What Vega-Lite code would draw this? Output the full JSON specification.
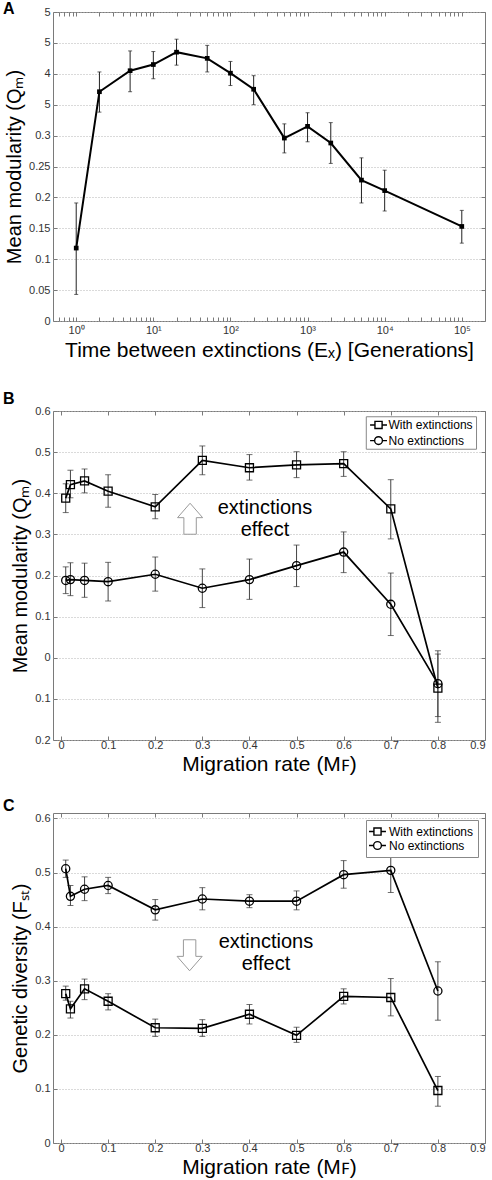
{
  "$schema": "https://vega.github.io/schema/vega-lite/v6.json",
  "padding": {"left": 2, "top": 0, "right": 0, "bottom": 0},
  "autosize": {"type": "pad"},
  "background": "white",
  "datasets": {
    "A": [
      {"t": 1, "q": 0.118, "lo": 0.043, "hi": 0.191},
      {"t": 2, "q": 0.371, "lo": 0.338, "hi": 0.403},
      {"t": 5, "q": 0.405, "lo": 0.371, "hi": 0.437},
      {"t": 10, "q": 0.415, "lo": 0.392, "hi": 0.436},
      {"t": 20, "q": 0.435, "lo": 0.414, "hi": 0.456},
      {"t": 50, "q": 0.425, "lo": 0.403, "hi": 0.446},
      {"t": 100, "q": 0.401, "lo": 0.381, "hi": 0.42},
      {"t": 200, "q": 0.375, "lo": 0.35, "hi": 0.397},
      {"t": 500, "q": 0.296, "lo": 0.272, "hi": 0.319},
      {"t": 1000, "q": 0.315, "lo": 0.29, "hi": 0.337},
      {"t": 2000, "q": 0.288, "lo": 0.255, "hi": 0.321},
      {"t": 5000, "q": 0.228, "lo": 0.191, "hi": 0.264},
      {"t": 10000, "q": 0.211, "lo": 0.178, "hi": 0.244},
      {"t": 100000, "q": 0.153, "lo": 0.126, "hi": 0.179}
    ],
    "B": [
      {"m": 0.01, "s": "With extinctions", "q": 0.388, "lo": 0.353, "hi": 0.423},
      {"m": 0.02, "s": "With extinctions", "q": 0.421, "lo": 0.389, "hi": 0.456},
      {"m": 0.05, "s": "With extinctions", "q": 0.43, "lo": 0.401, "hi": 0.459},
      {"m": 0.1, "s": "With extinctions", "q": 0.405, "lo": 0.366, "hi": 0.445},
      {"m": 0.2, "s": "With extinctions", "q": 0.367, "lo": 0.338, "hi": 0.397},
      {"m": 0.3, "s": "With extinctions", "q": 0.48, "lo": 0.445, "hi": 0.515},
      {"m": 0.4, "s": "With extinctions", "q": 0.462, "lo": 0.432, "hi": 0.494},
      {"m": 0.5, "s": "With extinctions", "q": 0.469, "lo": 0.438, "hi": 0.501},
      {"m": 0.6, "s": "With extinctions", "q": 0.472, "lo": 0.441, "hi": 0.501},
      {"m": 0.7, "s": "With extinctions", "q": 0.362, "lo": 0.289, "hi": 0.433},
      {"m": 0.8, "s": "With extinctions", "q": -0.074, "lo": -0.157, "hi": 0.009},
      {"m": 0.01, "s": "No extinctions", "q": 0.188, "lo": 0.156, "hi": 0.221},
      {"m": 0.02, "s": "No extinctions", "q": 0.19, "lo": 0.151, "hi": 0.231},
      {"m": 0.05, "s": "No extinctions", "q": 0.188, "lo": 0.147, "hi": 0.23},
      {"m": 0.1, "s": "No extinctions", "q": 0.185, "lo": 0.138, "hi": 0.232},
      {"m": 0.2, "s": "No extinctions", "q": 0.203, "lo": 0.162, "hi": 0.245},
      {"m": 0.3, "s": "No extinctions", "q": 0.169, "lo": 0.122, "hi": 0.216},
      {"m": 0.4, "s": "No extinctions", "q": 0.19, "lo": 0.142, "hi": 0.24},
      {"m": 0.5, "s": "No extinctions", "q": 0.224, "lo": 0.173, "hi": 0.274},
      {"m": 0.6, "s": "No extinctions", "q": 0.257, "lo": 0.207, "hi": 0.306},
      {"m": 0.7, "s": "No extinctions", "q": 0.13, "lo": 0.054, "hi": 0.206},
      {"m": 0.8, "s": "No extinctions", "q": -0.063, "lo": -0.143, "hi": 0.017}
    ],
    "C": [
      {"m": 0.01, "s": "With extinctions", "q": 0.276, "lo": 0.264, "hi": 0.29},
      {"m": 0.02, "s": "With extinctions", "q": 0.248, "lo": 0.231, "hi": 0.262},
      {"m": 0.05, "s": "With extinctions", "q": 0.285, "lo": 0.265, "hi": 0.303},
      {"m": 0.1, "s": "With extinctions", "q": 0.262, "lo": 0.246, "hi": 0.276},
      {"m": 0.2, "s": "With extinctions", "q": 0.213, "lo": 0.197, "hi": 0.229},
      {"m": 0.3, "s": "With extinctions", "q": 0.212, "lo": 0.197, "hi": 0.228},
      {"m": 0.4, "s": "With extinctions", "q": 0.238, "lo": 0.22, "hi": 0.256},
      {"m": 0.5, "s": "With extinctions", "q": 0.199, "lo": 0.186, "hi": 0.214},
      {"m": 0.6, "s": "With extinctions", "q": 0.271, "lo": 0.257, "hi": 0.285},
      {"m": 0.7, "s": "With extinctions", "q": 0.269, "lo": 0.235, "hi": 0.304},
      {"m": 0.8, "s": "With extinctions", "q": 0.097, "lo": 0.068, "hi": 0.123},
      {"m": 0.01, "s": "No extinctions", "q": 0.507, "lo": 0.491, "hi": 0.523},
      {"m": 0.02, "s": "No extinctions", "q": 0.456, "lo": 0.439, "hi": 0.476},
      {"m": 0.05, "s": "No extinctions", "q": 0.469, "lo": 0.448, "hi": 0.492},
      {"m": 0.1, "s": "No extinctions", "q": 0.476, "lo": 0.461, "hi": 0.491},
      {"m": 0.2, "s": "No extinctions", "q": 0.431, "lo": 0.412, "hi": 0.45},
      {"m": 0.3, "s": "No extinctions", "q": 0.451, "lo": 0.431, "hi": 0.472},
      {"m": 0.4, "s": "No extinctions", "q": 0.447, "lo": 0.435, "hi": 0.459},
      {"m": 0.5, "s": "No extinctions", "q": 0.447, "lo": 0.431, "hi": 0.466},
      {"m": 0.6, "s": "No extinctions", "q": 0.496, "lo": 0.471, "hi": 0.522},
      {"m": 0.7, "s": "No extinctions", "q": 0.504, "lo": 0.463, "hi": 0.545},
      {"m": 0.8, "s": "No extinctions", "q": 0.281, "lo": 0.227, "hi": 0.335}
    ],
    "noteB": [{"m": 0.433, "q": 0.349}],
    "arrowB": [{"m": 0.274, "q": 0.338}],
    "legBoxB": [{"m": 0.648, "m2": 0.882, "q": 0.586, "q2": 0.507}],
    "legB": [{"s": "With extinctions", "m": 0.674, "q": 0.566}, {"s": "No extinctions", "m": 0.674, "q": 0.528}],
    "noteC": [{"m": 0.435, "q": 0.36}],
    "arrowC": [{"m": 0.273, "q": 0.347}]
  },
  "config": {
    "font": "Liberation Sans",
    "view": {"stroke": "#7a7a7a", "strokeWidth": 1},
    "axis": {
      "labelFont": "Liberation Sans", "labelFontSize": 11, "labelColor": "#333",
      "titleFont": "Liberation Sans", "titleFontWeight": "normal", "titleColor": "#000",
      "titleFontSize": 20,
      "tickColor": "#7a7a7a", "tickSize": -4, "domain": false,
      "gridColor": "#b5b5b5", "gridDash": [1, 2], "gridWidth": 1,
      "labelOverlap": false, "labelPadding": 7
    },
    "legend": {
      "title": null,
      "symbolSize": 169, "symbolStrokeColor": "#000", "symbolStrokeWidth": 1.4, "symbolFillColor": "transparent", "symbolOpacity": 1,
      "labelFont": "Liberation Sans", "labelFontSize": 12, "labelColor": "#000", "labelOffset": 4,
      "strokeColor": "#888", "fillColor": "white", "padding": 4, "rowPadding": 0
    },
    "title": {"font": "Liberation Sans", "fontSize": 16, "fontWeight": "bold", "color": "#000", "anchor": "start", "frame": "group", "dx": -50, "baseline": "alphabetic"}
  },
  "spacing": 29,
  "vconcat": [
    {
      "width": 432, "height": 309,
      "title": {"text": "A", "offset": -11},
      "data": {"name": "A"},
      "layer": [
        {
          "mark": {"type": "rule", "color": "#222", "strokeWidth": 1},
          "encoding": {
            "x": {"field": "t", "type": "quantitative", "scale": {"type": "log", "domain": [0.5, 200000], "nice": false},
              "axis": {"orient": "bottom", "grid": false, "title": "Time between extinctions (Eₓ) [Generations]", "titleFontSize": 21,
                "values": [0.6,0.7,0.8,0.9,1,2,3,4,5,6,7,8,9,10,20,30,40,50,60,70,80,90,100,200,300,400,500,600,700,800,900,1000,2000,3000,4000,5000,6000,7000,8000,9000,10000,20000,30000,40000,50000,60000,70000,80000,90000,100000],
                "labelExpr": "datum.value == 1 ? '10⁰' : datum.value == 10 ? '10¹' : datum.value == 100 ? '10²' : datum.value == 1000 ? '10³' : datum.value == 10000 ? '10⁴' : datum.value == 100000 ? '10⁵' : ''"}},
            "y": {"field": "lo", "type": "quantitative", "scale": {"domain": [0, 0.5], "nice": false, "zero": false},
              "axis": {"orient": "left", "grid": true, "title": "Mean modularity (Qₘ)",
                "values": [0,0.05,0.1,0.15,0.2,0.25,0.3,0.35,0.4,0.45,0.5],
                "labelExpr": "datum.value > 0.33 ? (abs(datum.value - 0.4) < 0.01 ? '4' : '5') : format(datum.value, '~g')"}},
            "y2": {"field": "hi"}
          }
        },
        {
          "mark": {"type": "tick", "orient": "horizontal", "size": 4, "thickness": 1, "color": "#222"},
          "encoding": {
            "x": {"field": "t", "type": "quantitative", "scale": {"type": "log", "nice": false}, "axis": null},
            "y": {"field": "lo", "type": "quantitative", "axis": null}
          }
        },
        {
          "mark": {"type": "tick", "orient": "horizontal", "size": 4, "thickness": 1, "color": "#222"},
          "encoding": {
            "x": {"field": "t", "type": "quantitative", "scale": {"type": "log", "nice": false}, "axis": null},
            "y": {"field": "hi", "type": "quantitative", "axis": null}
          }
        },
        {
          "mark": {"type": "line", "color": "#000", "strokeWidth": 2},
          "encoding": {
            "x": {"field": "t", "type": "quantitative", "scale": {"type": "log", "nice": false},
              "axis": {"orient": "top", "labels": false, "title": null, "grid": false,
                "values": [0.6,0.7,0.8,0.9,1,2,3,4,5,6,7,8,9,10,20,30,40,50,60,70,80,90,100,200,300,400,500,600,700,800,900,1000,2000,3000,4000,5000,6000,7000,8000,9000,10000,20000,30000,40000,50000,60000,70000,80000,90000,100000]}},
            "y": {"field": "q", "type": "quantitative",
              "axis": {"orient": "right", "labels": false, "title": null, "grid": false, "values": [0,0.05,0.1,0.15,0.2,0.25,0.3,0.35,0.4,0.45,0.5]}}
          }
        },
        {
          "mark": {"type": "point", "shape": "square", "filled": true, "color": "#000", "size": 22, "opacity": 1},
          "encoding": {
            "x": {"field": "t", "type": "quantitative", "scale": {"type": "log", "nice": false}, "axis": null},
            "y": {"field": "q", "type": "quantitative", "axis": null}
          }
        }
      ]
    },
    {
      "spacing": 22,
      "resolve": {"scale": {"shape": "independent"}, "legend": {"shape": "independent"}},
      "vconcat": [
        {
          "width": 432, "height": 329,
          "title": {"text": "B", "offset": -2},
          "layer": [
            {
              "data": {"name": "B"},
              "mark": {"type": "rule", "color": "#444", "strokeWidth": 1},
              "encoding": {
                "x": {"field": "m", "type": "quantitative", "scale": {"domain": [-0.017, 0.9], "nice": false, "zero": false},
                  "axis": {"orient": "bottom", "grid": false, "title": "Migration rate (Mꜰ)", "titleFontSize": 21, "titlePadding": 3, "labelPadding": 3,
                    "values": [0,0.1,0.2,0.3,0.4,0.5,0.6,0.7,0.8,0.9], "format": "~g"}},
                "y": {"field": "lo", "type": "quantitative", "scale": {"domain": [-0.2, 0.6], "nice": false, "zero": false},
                  "axis": {"orient": "left", "grid": true, "title": "Mean modularity (Qₘ)",
                    "values": [-0.2,-0.1,0,0.1,0.2,0.3,0.4,0.5,0.6],
                    "labelExpr": "format(abs(datum.value), '~g')"}},
                "y2": {"field": "hi"},
                "detail": {"field": "s", "type": "nominal"}
              }
            },
            {
              "data": {"name": "B"},
              "mark": {"type": "tick", "orient": "horizontal", "size": 6, "thickness": 1, "color": "#333"},
              "encoding": {
                "x": {"field": "m", "type": "quantitative", "axis": null},
                "y": {"field": "lo", "type": "quantitative", "axis": null}
              }
            },
            {
              "data": {"name": "B"},
              "mark": {"type": "tick", "orient": "horizontal", "size": 6, "thickness": 1, "color": "#333"},
              "encoding": {
                "x": {"field": "m", "type": "quantitative", "axis": null},
                "y": {"field": "hi", "type": "quantitative", "axis": null}
              }
            },
            {
              "data": {"name": "B"},
              "mark": {"type": "line", "color": "#000", "strokeWidth": 1.7},
              "encoding": {
                "x": {"field": "m", "type": "quantitative",
                  "axis": {"orient": "top", "labels": false, "title": null, "grid": false, "values": [0,0.1,0.2,0.3,0.4,0.5,0.6,0.7,0.8,0.9]}},
                "y": {"field": "q", "type": "quantitative",
                  "axis": {"orient": "right", "labels": false, "title": null, "grid": false, "values": [-0.2,-0.1,0,0.1,0.2,0.3,0.4,0.5,0.6]}},
                "detail": {"field": "s", "type": "nominal"}
              }
            },
            {
              "data": {"name": "B"},
              "transform": [{"filter": "datum.s === 'With extinctions'"}],
              "mark": {"type": "point", "shape": "square", "filled": false, "color": "#000", "strokeWidth": 1.3, "size": 64, "opacity": 1},
              "encoding": {
                "x": {"field": "m", "type": "quantitative", "axis": null},
                "y": {"field": "q", "type": "quantitative", "axis": null}
              }
            },
            {
              "data": {"name": "B"},
              "transform": [{"filter": "datum.s === 'No extinctions'"}],
              "mark": {"type": "point", "shape": "circle", "filled": false, "color": "#000", "strokeWidth": 1.3, "size": 66, "opacity": 1},
              "encoding": {
                "x": {"field": "m", "type": "quantitative", "axis": null},
                "y": {"field": "q", "type": "quantitative", "axis": null}
              }
            },
            {
              "data": {"name": "arrowB"},
              "mark": {"type": "point", "shape": "M0,-1L0.81,-0.07L0.4,-0.07L0.4,1L-0.4,1L-0.4,-0.07L-0.81,-0.07Z", "size": 961, "filled": true, "fill": "white", "stroke": "#9a9a9a", "strokeWidth": 1, "opacity": 1},
              "encoding": {
                "x": {"field": "m", "type": "quantitative", "axis": null},
                "y": {"field": "q", "type": "quantitative", "axis": null}
              }
            },
            {
              "data": {"name": "noteB"},
              "mark": {"type": "text", "text": ["extinctions", "effect"], "font": "Liberation Sans", "fontSize": 20, "lineHeight": 21.5, "align": "center", "baseline": "alphabetic", "color": "#000"},
              "encoding": {
                "x": {"field": "m", "type": "quantitative", "axis": null},
                "y": {"field": "q", "type": "quantitative", "axis": null}
              }
            },
            {
              "data": {"name": "legBoxB"},
              "mark": {"type": "rect", "fill": "white", "stroke": "#888", "strokeWidth": 1},
              "encoding": {
                "x": {"field": "m", "type": "quantitative", "axis": null},
                "x2": {"field": "m2"},
                "y": {"field": "q", "type": "quantitative", "axis": null},
                "y2": {"field": "q2"}
              }
            },
            {
              "data": {"name": "legB"},
              "mark": {"type": "point", "filled": false, "color": "#000", "strokeWidth": 1.4, "size": 169, "opacity": 1},
              "encoding": {
                "x": {"field": "m", "type": "quantitative", "axis": null},
                "y": {"field": "q", "type": "quantitative", "axis": null},
                "shape": {"field": "s", "type": "nominal", "legend": null,
                  "scale": {"domain": ["With extinctions", "No extinctions"], "range": ["M-1.3,0H-0.55M0.55,0H1.3M-0.55,-0.55H0.55V0.55H-0.55Z", "M-1.3,0H-0.6M0.6,0H1.3M-0.6,0A0.6,0.6,0,1,1,0.6,0A0.6,0.6,0,1,1,-0.6,0Z"]}}
              }
            },
            {
              "data": {"name": "legB"},
              "mark": {"type": "text", "align": "left", "baseline": "middle", "dx": 10, "font": "Liberation Sans", "fontSize": 12, "color": "#000"},
              "encoding": {
                "x": {"field": "m", "type": "quantitative", "axis": null},
                "y": {"field": "q", "type": "quantitative", "axis": null},
                "text": {"field": "s", "type": "nominal"}
              }
            }
          ]
        },
        {
          "width": 432, "height": 330,
          "title": {"text": "C", "offset": -2},
          "layer": [
            {
              "data": {"name": "C"},
              "mark": {"type": "rule", "color": "#444", "strokeWidth": 1},
              "encoding": {
                "x": {"field": "m", "type": "quantitative", "scale": {"domain": [-0.017, 0.9], "nice": false, "zero": false},
                  "axis": {"orient": "bottom", "grid": false, "title": "Migration rate (Mꜰ)", "titleFontSize": 21, "titlePadding": 3, "labelPadding": 3,
                    "values": [0,0.1,0.2,0.3,0.4,0.5,0.6,0.7,0.8,0.9], "format": "~g"}},
                "y": {"field": "lo", "type": "quantitative", "scale": {"domain": [0, 0.61], "nice": false, "zero": false},
                  "axis": {"orient": "left", "grid": true, "title": "Genetic diversity (Fₛₜ)",
                    "values": [0,0.1,0.2,0.3,0.4,0.5,0.6], "format": "~g"}},
                "y2": {"field": "hi"},
                "detail": {"field": "s", "type": "nominal"}
              }
            },
            {
              "data": {"name": "C"},
              "mark": {"type": "tick", "orient": "horizontal", "size": 6, "thickness": 1, "color": "#333"},
              "encoding": {
                "x": {"field": "m", "type": "quantitative", "axis": null},
                "y": {"field": "lo", "type": "quantitative", "axis": null}
              }
            },
            {
              "data": {"name": "C"},
              "mark": {"type": "tick", "orient": "horizontal", "size": 6, "thickness": 1, "color": "#333"},
              "encoding": {
                "x": {"field": "m", "type": "quantitative", "axis": null},
                "y": {"field": "hi", "type": "quantitative", "axis": null}
              }
            },
            {
              "data": {"name": "C"},
              "mark": {"type": "line", "color": "#000", "strokeWidth": 1.7},
              "encoding": {
                "x": {"field": "m", "type": "quantitative",
                  "axis": {"orient": "top", "labels": false, "title": null, "grid": false, "values": [0,0.1,0.2,0.3,0.4,0.5,0.6,0.7,0.8,0.9]}},
                "y": {"field": "q", "type": "quantitative",
                  "axis": {"orient": "right", "labels": false, "title": null, "grid": false, "values": [0,0.1,0.2,0.3,0.4,0.5,0.6]}},
                "detail": {"field": "s", "type": "nominal"}
              }
            },
            {
              "data": {"name": "C"},
              "transform": [{"filter": "datum.s === 'With extinctions'"}],
              "mark": {"type": "point", "shape": "square", "filled": false, "color": "#000", "strokeWidth": 1.3, "size": 64, "opacity": 1},
              "encoding": {
                "x": {"field": "m", "type": "quantitative", "axis": null},
                "y": {"field": "q", "type": "quantitative", "axis": null}
              }
            },
            {
              "data": {"name": "C"},
              "transform": [{"filter": "datum.s === 'No extinctions'"}],
              "mark": {"type": "point", "shape": "circle", "filled": false, "color": "#000", "strokeWidth": 1.3, "size": 66, "opacity": 1},
              "encoding": {
                "x": {"field": "m", "type": "quantitative", "axis": null},
                "y": {"field": "q", "type": "quantitative", "axis": null}
              }
            },
            {
              "data": {"name": "C"},
              "transform": [{"filter": "datum.m > 5"}],
              "mark": {"type": "point", "filled": false, "color": "#000", "strokeWidth": 1.4},
              "encoding": {
                "x": {"field": "m", "type": "quantitative", "axis": null},
                "y": {"field": "q", "type": "quantitative", "axis": null},
                "shape": {"field": "s", "type": "nominal",
                  "scale": {"domain": ["With extinctions", "No extinctions"], "range": ["M-1.3,0H-0.55M0.55,0H1.3M-0.55,-0.55H0.55V0.55H-0.55Z", "M-1.3,0H-0.6M0.6,0H1.3M-0.6,0A0.6,0.6,0,1,1,0.6,0A0.6,0.6,0,1,1,-0.6,0Z"]},
                  "legend": {"orient": "none", "legendX": 313, "legendY": 7}}
              }
            },
            {
              "data": {"name": "arrowC"},
              "mark": {"type": "point", "shape": "M0,1L0.81,0.07L0.4,0.07L0.4,-1L-0.4,-1L-0.4,0.07L-0.81,0.07Z", "size": 961, "filled": true, "fill": "white", "stroke": "#9a9a9a", "strokeWidth": 1, "opacity": 1},
              "encoding": {
                "x": {"field": "m", "type": "quantitative", "axis": null},
                "y": {"field": "q", "type": "quantitative", "axis": null}
              }
            },
            {
              "data": {"name": "noteC"},
              "mark": {"type": "text", "text": ["extinctions", "effect"], "font": "Liberation Sans", "fontSize": 20, "lineHeight": 21.5, "align": "center", "baseline": "alphabetic", "color": "#000"},
              "encoding": {
                "x": {"field": "m", "type": "quantitative", "axis": null},
                "y": {"field": "q", "type": "quantitative", "axis": null}
              }
            }
          ]
        }
      ]
    }
  ]
}
